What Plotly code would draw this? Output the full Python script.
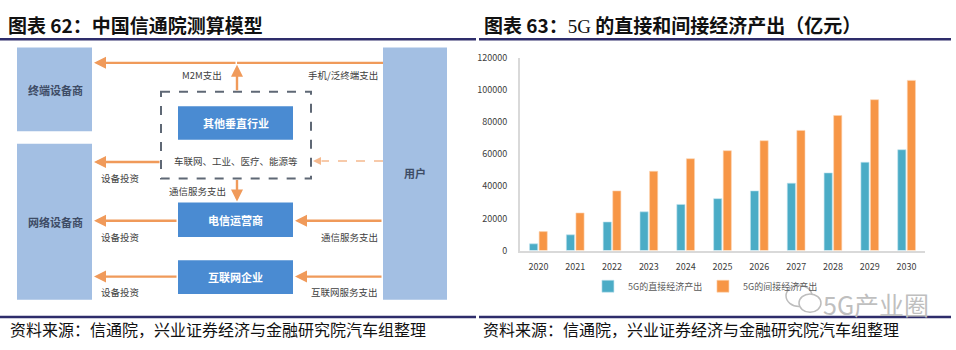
import plotly.graph_objects as go

# ---------------- data (right chart) ----------------
years = ['2020', '2021', '2022', '2023', '2024', '2025', '2026', '2027', '2028', '2029', '2030']
direct_output = [4200, 9800, 17800, 24100, 28700, 32300, 37100, 41900, 48300, 54900, 62700]
indirect_output = [11800, 23400, 37100, 49300, 57100, 62100, 68300, 74700, 84000, 93800, 105800]
series_names = ['5G的直接经济产出', '5G的间接经济产出']
y_ticks = [0, 20000, 40000, 60000, 80000, 100000, 120000]

# ---------------- text (left diagram) ----------------
left_title = '图表 62：中国信通院测算模型'
right_title = '图表 63：<span style="font-family:\'Liberation Serif\';font-weight:normal">5G</span> 的直接和间接经济产出（亿元）'
source_text = '资料来源：信通院，兴业证券经济与金融研究院汽车组整理'
watermark = '5G产业圈'

FONT = 'Noto Sans CJK SC'
BLUE = '#4BACC6'
ORANGE = '#F79646'
ARROW = '#F09A5A'
LIGHT_BOX = '#A3BFE3'
MID_BOX = '#4A8BD2'

fig = go.Figure()
fig.add_trace(go.Bar(x=years, y=direct_output, name=series_names[0], marker_color=BLUE,
                     marker_line=dict(color='#BFE3EE', width=0.6)))
fig.add_trace(go.Bar(x=years, y=indirect_output, name=series_names[1], marker_color=ORANGE,
                     marker_line=dict(color='#FBD3B2', width=0.6)))
# empty trace to activate the overlay (diagram) axes
fig.add_trace(go.Scatter(x=[None], y=[None], xaxis='x2', yaxis='y2', showlegend=False, hoverinfo='skip'))

shapes = []
annotations = []

def rect(x0, y0, x1, y1, fill, line=None, dash=None, width=0):
    shapes.append(dict(type='rect', xref='x2', yref='y2', x0=x0, y0=y0, x1=x1, y1=y1,
                       fillcolor=fill, line=dict(color=line or fill, width=width, dash=dash), layer='below'))

def text(x, y, s, size=10, color='#404040', anchor='center', bold=False, family=FONT):
    if bold:
        s = '<b>' + s + '</b>'
    annotations.append(dict(xref='x2', yref='y2', x=x, y=y, text=s, showarrow=False,
                            xanchor=anchor, yanchor='middle', font=dict(size=size, color=color, family=family)))

def arrow(x0, y0, x1, y1, color=ARROW, width=2.4):
    annotations.append(dict(xref='x2', yref='y2', axref='x2', ayref='y2', x=x1, y=y1, ax=x0, ay=y0,
                            text='', showarrow=True, arrowhead=2, arrowsize=1, arrowwidth=width,
                            arrowcolor=color, standoff=0, startstandoff=0))

# boxes
rect(17, 42, 92, 129, LIGHT_BOX)
rect(17, 142, 92, 304, LIGHT_BOX)
rect(383, 42, 447, 304, LIGHT_BOX)
rect(178, 103, 293, 138, MID_BOX)
rect(178, 203, 293, 239, MID_BOX)
rect(178, 263, 293, 298, MID_BOX)
rect(161, 88, 311, 178, 'rgba(0,0,0,0)', line='#5F6875', dash='dash', width=2)

text(55, 86, '终端设备商', size=11, color='#3E4C66', bold=True)
text(55, 223, '网络设备商', size=11, color='#3E4C66', bold=True)
text(415, 172, '用户', size=11, color='#3E4C66', bold=True)
text(235.5, 120.5, '其他垂直行业', size=11, color='white', bold=True)
text(235.5, 221, '电信运营商', size=11, color='white', bold=True)
text(235.5, 280.5, '互联网企业', size=11, color='white', bold=True)

# top flow
shapes.append(dict(type='line', xref='x2', yref='y2', x0=237, y0=58, x1=383, y1=58,
                   line=dict(color=ARROW, width=2.4)))
arrow(237, 58, 94, 58)
arrow(237, 88, 237, 60)
text(202, 71, 'M2M支出', size=9.5)
text(380, 71, '手机/泛终端支出', size=9.5, anchor='right')

# dashed box content
text(236, 160, '车联网、工业、医疗、能源等', size=9.5)
shapes.append(dict(type='line', xref='x2', yref='y2', x0=383, y0=160, x1=322, y1=160,
                   line=dict(color='#F5B98E', width=1.6, dash='dash')))
arrow(323, 160, 313, 160, color='#F5B98E', width=1.6)
arrow(161, 161, 94, 161)
text(120, 178, '设备投资', size=9.5)

# operator flow
arrow(237, 178, 237, 202)
text(197, 191, '通信服务支出', size=9.5)
arrow(178, 222, 94, 222)
text(120, 239, '设备投资', size=9.5)
arrow(383, 222, 295, 222)
text(380, 239, '通信服务支出', size=9.5, anchor='right')

# internet flow
arrow(178, 280, 94, 280)
text(120, 296, '设备投资', size=9.5)
arrow(383, 280, 295, 280)
text(380, 296, '互联网服务支出', size=9.5, anchor='right')

# titles, rules, sources
text(6, 18, left_title, size=19, color='#111111', anchor='left', bold=True)
text(482, 18, right_title, size=19, color='#111111', anchor='left', bold=True)
for xa, xb in [(0, 476), (479, 951)]:
    shapes.append(dict(type='line', xref='x2', yref='y2', x0=xa, y0=33.5, x1=xb, y1=33.5,
                       line=dict(color='#2E2D6B', width=2.5)))
    shapes.append(dict(type='line', xref='x2', yref='y2', x0=xa, y0=322, x1=xb, y1=322,
                       line=dict(color='#2E2D6B', width=2.5)))
text(8, 334, source_text, size=16, color='#111111', anchor='left')
text(481, 334, source_text, size=16, color='#111111', anchor='left')

# watermark
shapes.append(dict(type='circle', xref='x2', yref='y2', x0=786, y0=289, x1=812, y1=311,
                   fillcolor='white', line=dict(color='#BDBDBD', width=1.5)))
shapes.append(dict(type='circle', xref='x2', yref='y2', x0=799, y0=298, x1=821, y1=317,
                   fillcolor='white', line=dict(color='#BDBDBD', width=1.5)))
text(876, 308, watermark, size=25, color='#BFBFBF')

fig.update_layout(
    width=956, height=350, margin=dict(l=0, r=0, t=0, b=0),
    paper_bgcolor='white', plot_bgcolor='rgba(0,0,0,0)',
    font=dict(family=FONT, color='#404040'),
    barmode='group', bargap=0.48, bargroupgap=0.15,
    xaxis=dict(domain=[520 / 956, 925 / 956], type='category', showline=True, linecolor='#D9D9D9',
               linewidth=1.5, showgrid=False, ticks='', tickfont=dict(size=9, color='#404040'),
               ticklabelstandoff=7),
    yaxis=dict(domain=[(350 - 253) / 350, (350 - 52.5) / 350], range=[0, 120000], tickvals=y_ticks,
               tickformat='d', showline=True, linecolor='#D9D9D9', linewidth=2, showgrid=False,
               zeroline=False, ticks='', tickfont=dict(size=9, color='#404040'), ticklabelstandoff=9),
    xaxis2=dict(domain=[0, 1], range=[0, 956], visible=False, anchor='y2', fixedrange=True),
    yaxis2=dict(domain=[0, 1], range=[350, 0], visible=False, anchor='x2', fixedrange=True),
    legend=dict(orientation='h', x=0.615, xanchor='left', y=(350 - 290) / 350, yanchor='middle',
                font=dict(size=9, color='#595959'), itemwidth=30, bgcolor='rgba(0,0,0,0)',
                entrywidth=70, entrywidthmode='pixels'),
    shapes=shapes, annotations=annotations,
)

fig.write_html('out.html')
